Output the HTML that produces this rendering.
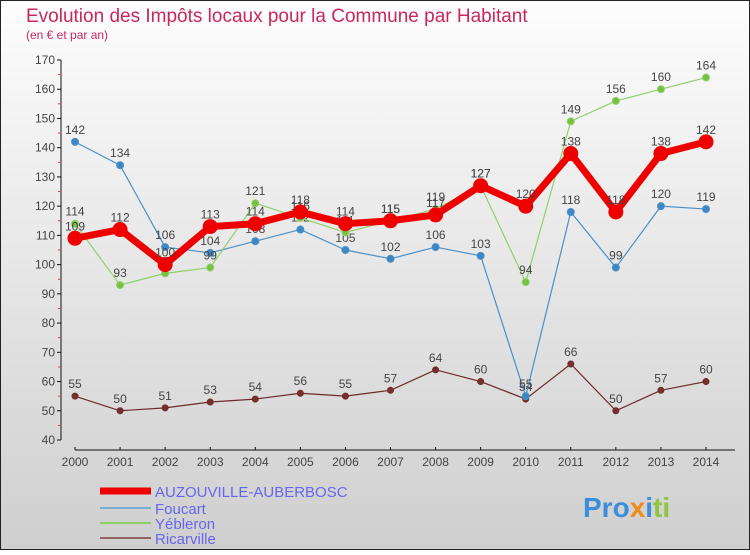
<!DOCTYPE html>
<html><head><meta charset="utf-8"><style>
body{margin:0;width:750px;height:550px;overflow:hidden;font-family:"Liberation Sans",sans-serif}
svg text{font-family:"Liberation Sans",sans-serif}
</style></head><body>
<svg id="c" width="750" height="550">
<defs><linearGradient id="bg" x1="0" y1="0" x2="0" y2="1"><stop offset="0" stop-color="#fdfdfd"/><stop offset="1" stop-color="#cfcfcf"/></linearGradient></defs>
<rect x="0.5" y="0.5" width="749" height="549" fill="url(#bg)" stroke="#222"/>
<text x="26" y="22" font-size="19" fill="#c8285a">Evolution des Impôts locaux pour la Commune par Habitant</text>
<text x="26" y="39" font-size="12" fill="#c8285a">(en € et par an)</text>
<g id="axes"></g><g id="series"></g>
<g>
<line x1="100" y1="491" x2="151" y2="491" stroke="#e00" stroke-width="7"/>
<text x="155" y="497" font-size="15" fill="#6666ee">AUZOUVILLE-AUBERBOSC</text>
<line x1="100" y1="508" x2="151" y2="508" stroke="#7aaed0" stroke-width="2"/>
<text x="155" y="514" font-size="15" fill="#6666ee">Foucart</text>
<line x1="100" y1="523" x2="151" y2="523" stroke="#8fd06a" stroke-width="2"/>
<text x="155" y="529" font-size="15" fill="#6666ee">Yébleron</text>
<line x1="100" y1="538" x2="151" y2="538" stroke="#946464" stroke-width="2"/>
<text x="155" y="544" font-size="15" fill="#6666ee">Ricarville</text>
</g>
<text x="583" y="517" font-size="28" font-weight="bold"><tspan fill="#3a8fd8">Pro</tspan><tspan fill="#f08a1a">x</tspan><tspan fill="#3a8fd8">i</tspan><tspan fill="#8cc63f">ti</tspan></text>
</svg>
<script>
const years=[2000,2001,2002,2003,2004,2005,2006,2007,2008,2009,2010,2011,2012,2013,2014];
const yTicks=[40,50,60,70,80,90,100,110,120,130,140,150,160,170];
const auzouville=[109,112,100,113,114,118,114,115,117,127,120,138,118,138,142];
const foucart=[142,134,106,104,108,112,105,102,106,103,55,118,99,120,119];
const yebleron=[114,93,97,99,121,116,111,115,119,127,94,149,156,160,164];
const ricarville=[55,50,51,53,54,56,55,57,64,60,54,66,50,57,60];
const NS="http://www.w3.org/2000/svg";
const x=i=>75+i*(631/14);
const y=v=>440-(v-40)*380/130;
function mk(t,a,p){const e=document.createElementNS(NS,t);for(const k in a)e.setAttribute(k,a[k]);p.appendChild(e);return e;}
const ax=document.getElementById('axes');
mk('line',{x1:61,y1:60,x2:61,y2:440,stroke:'#111'},ax);
yTicks.forEach(v=>{mk('line',{x1:57,y1:y(v),x2:61,y2:y(v),stroke:'#111'},ax);
 const t=mk('text',{x:55,y:y(v)+4,'font-size':12,'text-anchor':'end',fill:'#444'},ax);t.textContent=v;
 
 
 if(v<170)mk('line',{x1:58,y1:y(v+5),x2:60,y2:y(v+5),stroke:'#e33'},ax);});
mk('line',{x1:75,y1:450,x2:735,y2:450,stroke:'#111'},ax);
years.forEach((yr,i)=>{mk('line',{x1:x(i),y1:447,x2:x(i),y2:450,stroke:'#111'},ax);
 const t=mk('text',{x:x(i),y:466,'font-size':12,'text-anchor':'middle',fill:'#444'},ax);t.textContent=yr;
 
 });
const sg=document.getElementById('series');
function series(d,col,dot,w,r,name){
 const g=mk('g',{},sg);
 
 
 mk('polyline',{points:d.map((v,i)=>x(i)+','+y(v)).join(' '),fill:'none',stroke:col,'stroke-width':w,'stroke-linejoin':'round'},g);
 d.forEach((v,i)=>{const c=mk('circle',{cx:x(i),cy:y(v),r:r,fill:dot,stroke:col,'stroke-width':1},g);
  
  
  const t=mk('text',{x:x(i),y:y(v)-8,'font-size':12,'text-anchor':'middle',fill:'#444'},g);t.textContent=v;
  
  });
}
series(ricarville,'#6e2a2a','#7a2f2f',1.2,3,'ricarville-line');
series(foucart,'#4a90c8','#3d88c4',1.2,3.5,'foucart-line');
series(yebleron,'#8fd06a','#78c040',1.2,3.5,'yebleron-line');
series(auzouville,'#e00','#e00',7,7,'auzouville-line');
</script>
</body></html>
